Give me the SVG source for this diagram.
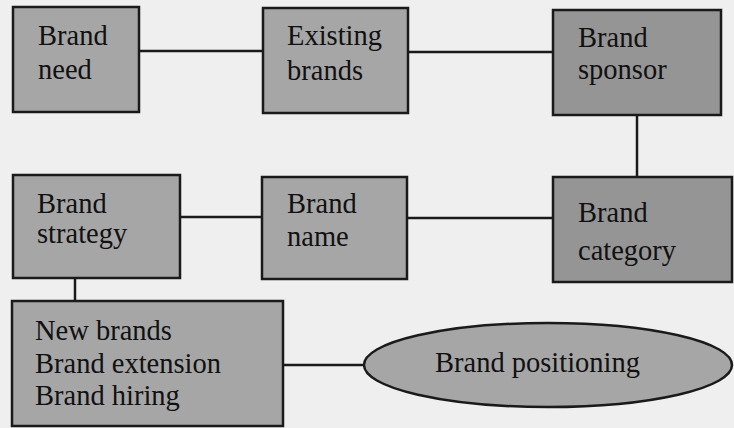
<svg xmlns="http://www.w3.org/2000/svg" width="734" height="428" viewBox="0 0 734 428">
<style>
.box{fill:#a6a6a6;stroke:#1a1a1a;stroke-width:2.5}
.dark{fill:#959595}
.t{font-family:"Liberation Serif","Times New Roman",serif;font-size:28.5px;fill:#111}
.c{stroke:#1a1a1a;stroke-width:2.5;fill:none}
</style>
<rect width="734" height="428" fill="#efefef"/>
<g id="connectors">
<line class="c" x1="139" y1="51" x2="263" y2="51"/>
<line class="c" x1="408" y1="52" x2="553" y2="52"/>
<line class="c" x1="637" y1="115" x2="637" y2="177"/>
<line class="c" x1="180" y1="217" x2="262" y2="217"/>
<line class="c" x1="407" y1="218" x2="553" y2="218"/>
<line class="c" x1="75" y1="278" x2="75" y2="301"/>
<line class="c" x1="283" y1="365" x2="364" y2="365"/>
</g>
<g id="brand-need">
<rect class="box" x="13" y="7" width="126" height="105"/>
<text class="t" x="38" y="45">Brand</text>
<text class="t" x="38" y="79">need</text>
</g>
<g id="existing-brands">
<rect class="box" x="263" y="8" width="145" height="105"/>
<text class="t" x="287" y="45">Existing</text>
<text class="t" x="287" y="80">brands</text>
</g>
<g id="brand-sponsor">
<rect class="box dark" x="553" y="10" width="168" height="105"/>
<text class="t" x="578" y="47">Brand</text>
<text class="t" x="578" y="79">sponsor</text>
</g>
<g id="brand-category">
<rect class="box dark" x="553" y="177" width="179" height="105"/>
<text class="t" x="578" y="222">Brand</text>
<text class="t" x="578" y="260">category</text>
</g>
<g id="brand-strategy">
<rect class="box" x="13" y="175" width="167" height="103"/>
<text class="t" x="37" y="213">Brand</text>
<text class="t" x="37" y="243">strategy</text>
</g>
<g id="brand-name">
<rect class="box" x="262" y="177" width="145" height="102"/>
<text class="t" x="287" y="213">Brand</text>
<text class="t" x="287" y="246">name</text>
</g>
<g id="brand-types">
<rect class="box" x="12" y="301" width="271" height="125"/>
<text class="t" x="35" y="340">New brands</text>
<text class="t" x="35" y="373">Brand extension</text>
<text class="t" x="35" y="405">Brand hiring</text>
</g>
<g id="brand-positioning">
<ellipse class="box" cx="548" cy="365" rx="184" ry="42"/>
<text class="t" x="435" y="372">Brand positioning</text>
</g>
</svg>
